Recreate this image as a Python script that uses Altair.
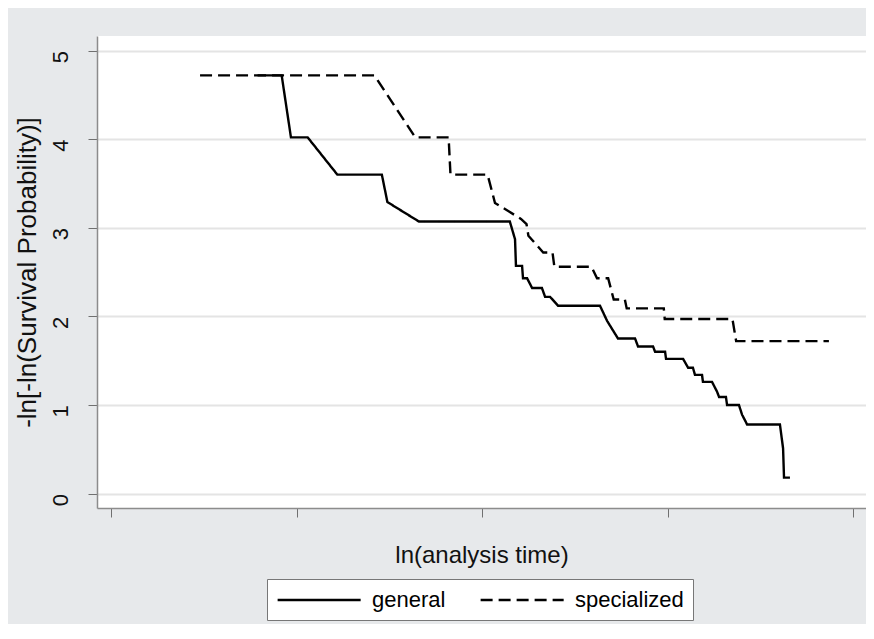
import altair as alt
import pandas as pd

# ln(analysis time) (unlabelled axis, ticks at 0..4) and -ln[-ln(S)] values
gen_x = [0.79, 0.92, 0.97, 1.06, 1.22, 1.46, 1.49, 1.66, 2.15, 2.178, 2.183, 2.216,
         2.221, 2.243, 2.270, 2.323, 2.340, 2.367, 2.410, 2.636, 2.674, 2.733, 2.825,
         2.841, 2.922, 2.933, 2.987, 2.992, 3.084, 3.111, 3.137, 3.148, 3.186, 3.191,
         3.240, 3.267, 3.278, 3.315, 3.321, 3.385, 3.402, 3.429, 3.606, 3.623, 3.628, 3.660]
gen_y = [4.72, 4.72, 4.02, 4.02, 3.60, 3.60, 3.29, 3.07, 3.07, 2.87, 2.57, 2.57,
         2.43, 2.43, 2.32, 2.32, 2.22, 2.22, 2.12, 2.12, 1.95, 1.75, 1.75,
         1.66, 1.66, 1.60, 1.60, 1.52, 1.52, 1.42, 1.42, 1.34, 1.34, 1.26,
         1.26, 1.15, 1.09, 1.09, 1.00, 1.00, 0.89, 0.78, 0.78, 0.51, 0.18, 0.18]

spec_x = [0.48, 1.42, 1.64, 1.82, 1.83, 2.03, 2.07, 2.21, 2.24, 2.25, 2.33, 2.38,
          2.39, 2.59, 2.62, 2.68, 2.71, 2.77, 2.78, 2.98, 2.985, 3.35, 3.37, 3.87]
spec_y = [4.72, 4.72, 4.02, 4.02, 3.60, 3.60, 3.28, 3.10, 3.04, 2.91, 2.72, 2.72,
          2.56, 2.56, 2.43, 2.43, 2.19, 2.19, 2.09, 2.09, 1.97, 1.97, 1.72, 1.72]

series_names = ["general", "specialized"]
x_ticks = [0, 1, 2, 3, 4]
y_ticks = [0, 1, 2, 3, 4, 5]

rows = []
for i, (x, y) in enumerate(zip(gen_x, gen_y)):
    rows.append({"x": x, "y": y, "series": "general", "idx": i})
for i, (x, y) in enumerate(zip(spec_x, spec_y)):
    rows.append({"x": x, "y": y, "series": "specialized", "idx": i})
df = pd.DataFrame(rows)

FONT = "Liberation Sans"

chart = alt.Chart(df).mark_line(strokeWidth=2.4, color="black").encode(
    x=alt.X("x:Q",
            scale=alt.Scale(domain=[-0.0755, 4.070], nice=False, zero=False),
            axis=alt.Axis(values=x_ticks, labels=False, grid=False,
                          title="ln(analysis time)", titlePadding=26)),
    y=alt.Y("y:Q",
            scale=alt.Scale(domain=[-0.163, 5.164], nice=False, zero=False),
            axis=alt.Axis(values=y_ticks, grid=True, format="d",
                          title="-ln[-ln(Survival Probability)]",
                          labelAngle=270, labelAlign="center",
                          labelBaseline="alphabetic", labelPadding=21,
                          labelOffset=6, titlePadding=9)),
    strokeDash=alt.StrokeDash("series:N",
                              scale=alt.Scale(domain=series_names,
                                              range=[[1, 0], [12, 6]]),
                              legend=alt.Legend(title=None, orient="none",
                                                legendX=170, legendY=543,
                                                direction="horizontal", columns=2,
                                                symbolType="M-1,0H7",
                                                symbolSize=431,
                                                symbolStrokeWidth=2.4,
                                                symbolStrokeColor="black",
                                                labelFontSize=22, labelFont=FONT,
                                                labelColor="black",
                                                labelOffset=72, columnPadding=29,
                                                padding=9,
                                                strokeColor="#777777",
                                                fillColor="white")),
    order=alt.Order("idx:Q"),
).properties(
    width=769,
    height=472,
    autosize=alt.AutoSizeParams(type="none"),
    padding={"left": 89, "top": 28, "right": 0, "bottom": 116},
    background="#e7e9eb",
).configure_view(
    fill="white", strokeWidth=0
).configure_axis(
    domainColor="#8c8c8c", domainWidth=1.5,
    tickColor="#707070", tickSize=9, tickWidth=1,
    gridColor="#e4e4e4", gridWidth=2,
    labelFont=FONT, labelFontSize=22, labelColor="#111111",
    titleFont=FONT, titleFontSize=24, titleFontWeight="normal", titleColor="#111111",
).configure_axisY(
    titleFontSize=26
)

chart.save("out.html", embed_options={"renderer": "svg", "actions": False})
